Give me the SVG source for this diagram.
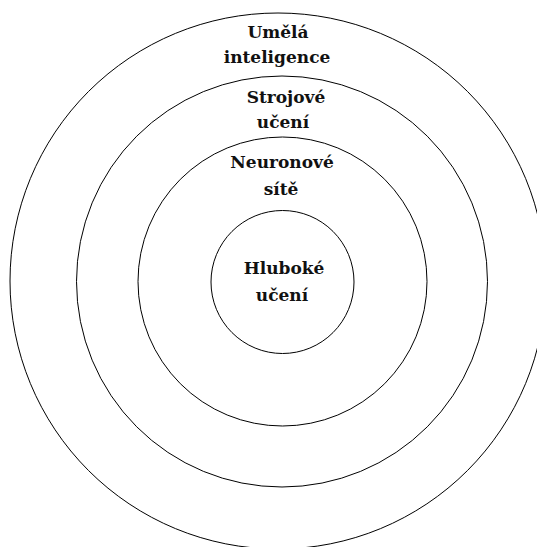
<svg xmlns="http://www.w3.org/2000/svg" width="537" height="547" viewBox="0 0 537 547">
  <style>
    .ring { fill: none; stroke: #000; stroke-width: 1; }
    .label { font-family: "DejaVu Serif", "Liberation Serif", serif; font-size: 17px; font-weight: bold; fill: #111; text-anchor: middle; }
  </style>
  <rect width="537" height="547" fill="#fff"/>
  <!-- nested rings, outermost first -->
  <g id="ai">
    <circle class="ring" cx="278" cy="281" r="268"/>
    <text class="label" x="278" y="38">Umělá</text>
    <text class="label" x="277" y="63">inteligence</text>
  </g>
  <g id="ml">
    <circle class="ring" cx="282" cy="281.5" r="205.5"/>
    <text class="label" x="286" y="103">Strojové</text>
    <text class="label" x="283" y="128">učení</text>
  </g>
  <g id="nn">
    <circle class="ring" cx="282.5" cy="281.5" r="144.5"/>
    <text class="label" x="282" y="168">Neuronové</text>
    <text class="label" x="281" y="195">sítě</text>
  </g>
  <g id="dl">
    <circle class="ring" cx="282.5" cy="282" r="71.5"/>
    <text class="label" x="284" y="274">Hluboké</text>
    <text class="label" x="282" y="301">učení</text>
  </g>
</svg>
